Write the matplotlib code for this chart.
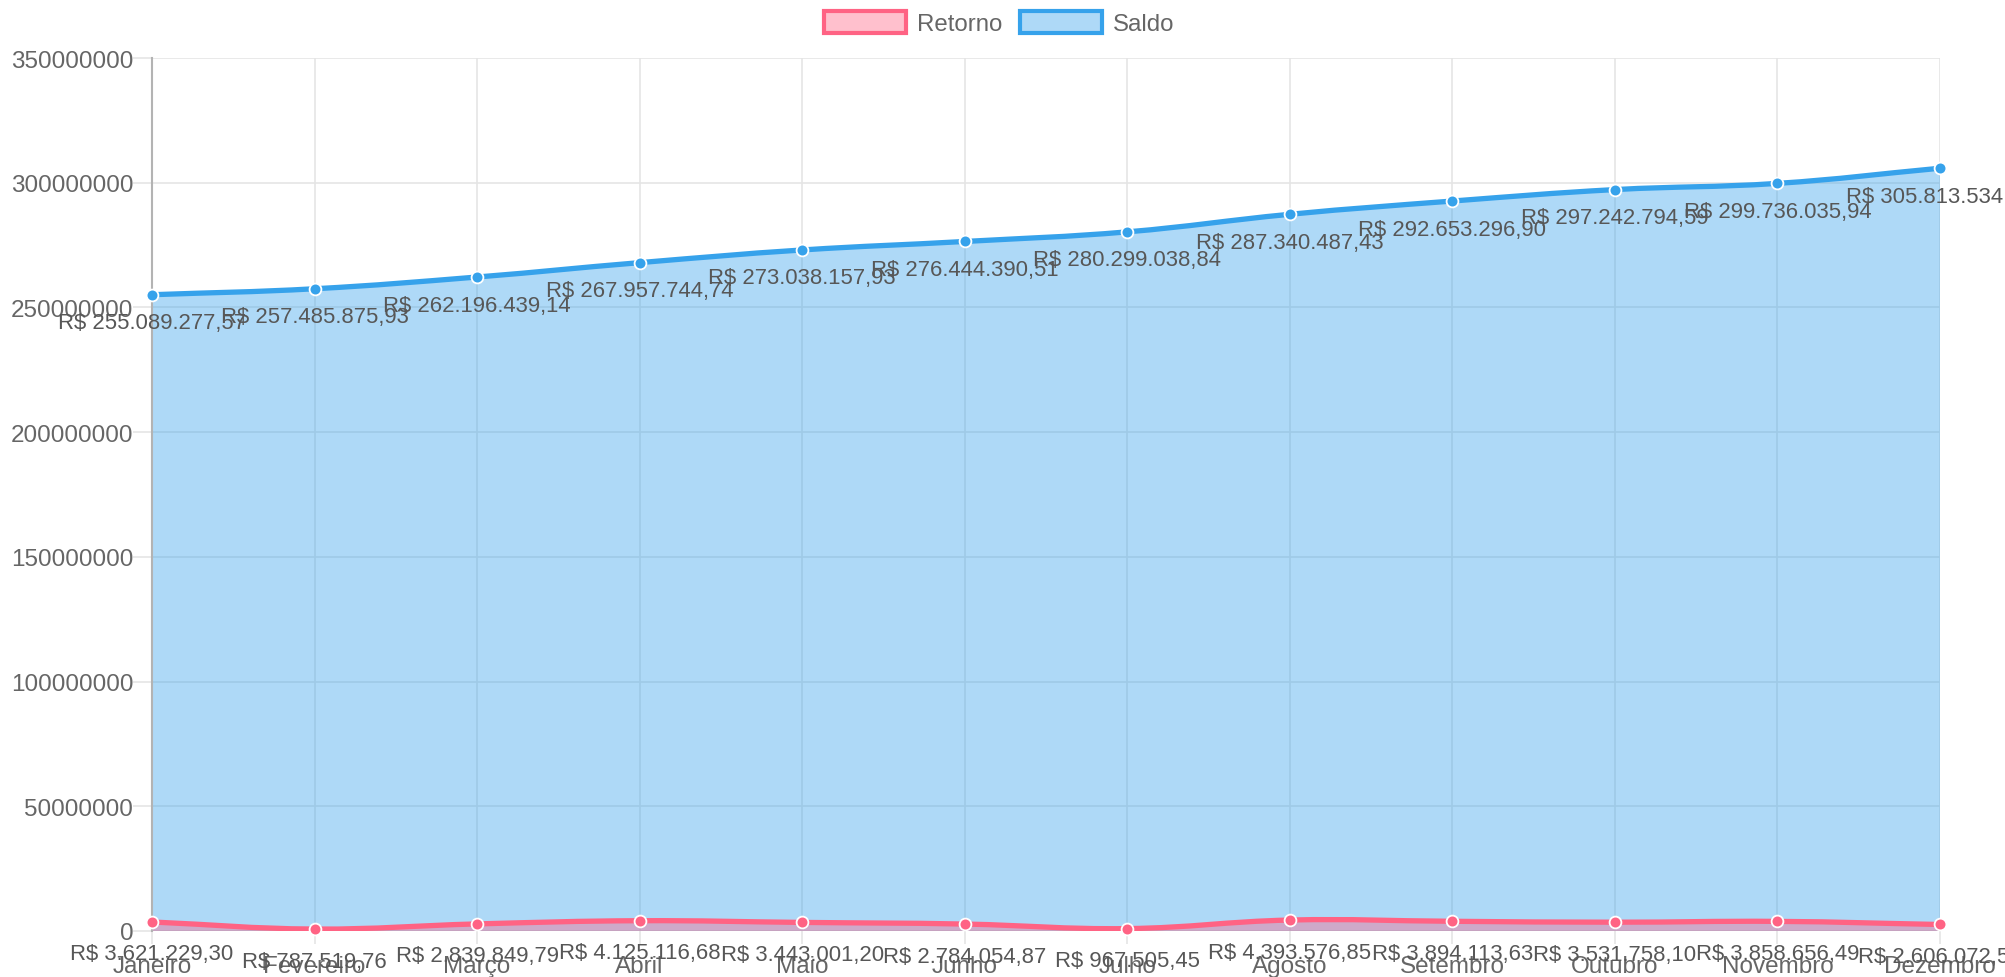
import numpy as np
import matplotlib
matplotlib.use('Agg')
import matplotlib.pyplot as plt
from matplotlib.path import Path
from matplotlib.patches import PathPatch, Patch
from matplotlib.ticker import FuncFormatter

months = ['Janeiro', 'Fevereiro', 'Março', 'Abril', 'Maio', 'Junho', 'Julho',
          'Agosto', 'Setembro', 'Outubro', 'Novembro', 'Dezembro']
retorno = [3621229.30, 787519.76, 2839849.79, 4125116.68, 3443001.20, 2784054.87,
           967505.45, 4393576.85, 3894113.63, 3531758.10, 3858656.49, 2606072.55]
saldo = [255089277.57, 257485875.93, 262196439.14, 267957744.74, 273038157.93,
         276444390.51, 280299038.84, 287340487.43, 292653296.90, 297242794.59,
         299736035.94, 305813534.27]

plt.rcParams['font.family'] = ['Liberation Sans', 'DejaVu Sans']

W, H = 2006, 978
L, R, T, B = 152, 1940, 59, 932
YMAX = 350000000


def brl(v):
  s = f"{v:,.2f}".replace(',', '#').replace('.', ',').replace('#', '.')
  return 'R$ ' + s


def spline_path(xs, ys, tension=0.4):
  """
  Chart.js style bezier through the points, closed down to zero
  (control points computed in pixel space)
  """
  sx = (R - L) / (len(xs) - 1)
  sy = (B - T) / YMAX
  px = np.asarray(xs, float) * sx
  py = np.asarray(ys, float) * sy
  n = len(px)
  cp_prev, cp_next = [], []
  for i in range(n):
    a = max(i - 1, 0); c = min(i + 1, n - 1)
    d01 = np.hypot(px[i] - px[a], py[i] - py[a])
    d12 = np.hypot(px[c] - px[i], py[c] - py[i])
    tot = d01 + d12
    s01 = d01 / tot if tot else 0
    s12 = d12 / tot if tot else 0
    fa, fb = tension * s01, tension * s12
    dx, dy = px[c] - px[a], py[c] - py[a]
    cp_prev.append((px[i] - fa * dx, py[i] - fa * dy))
    cp_next.append((px[i] + fb * dx, py[i] + fb * dy))
  verts = [(px[0], py[0])]
  codes = [Path.MOVETO]
  for i in range(n - 1):
    verts += [cp_next[i], cp_prev[i + 1], (px[i + 1], py[i + 1])]
    codes += [Path.CURVE4] * 3
  verts = [(x / sx, y / sy) for x, y in verts]
  line = Path(verts, codes)
  fill = Path([(xs[0], 0)] + verts + [(xs[-1], 0), (xs[0], 0)],
              [Path.MOVETO, Path.LINETO] + codes[1:] + [Path.LINETO, Path.CLOSEPOLY])
  return line, fill


fig = plt.figure(figsize=(W / 100, H / 100), dpi=100)
ax = fig.add_axes([L / W, 1 - B / H, (R - L) / W, (B - T) / H])
x = np.arange(len(months))

series = [(saldo, '#36a2eb', -28), (retorno, '#ff6384', -32)]
for vals, col, off in series:
  line, fill = spline_path(x, vals)
  ax.add_patch(PathPatch(fill, facecolor=col, alpha=0.4, edgecolor='none', zorder=2))
  ax.add_patch(PathPatch(line, facecolor='none', edgecolor=col, lw=3.8, zorder=3,
                         capstyle='round', joinstyle='round'))
for vals, col, off in series:
  ax.plot(x, vals, 'o', ms=8.5, mfc=col, mec='white', mew=1.3, zorder=4, clip_on=False)
  for xi, v in zip(x, vals):
    ax.annotate(brl(v), (xi, v), xytext=(0, off), textcoords='offset pixels',
                ha='center', va='center', fontsize=15.9, color='#575757',
                annotation_clip=False, zorder=6)

ax.set_xlim(0, len(months) - 1)
ax.set_ylim(0, YMAX)
ax.set_xticks(x)
ax.set_xticklabels(months)
ax.set_yticks(np.arange(0, YMAX + 1, 50000000))
ax.yaxis.set_major_formatter(FuncFormatter(lambda v, p: f"{int(v)}"))
ax.grid(True, color='#e5e5e5', lw=1.2, zorder=0)
ax.set_axisbelow(True)
for s in ['top', 'right', 'bottom']:
  ax.spines[s].set_visible(False)
ax.spines['left'].set_color('#b3b3b3')
ax.spines['left'].set_linewidth(1.5)
ax.tick_params(axis='y', length=13.5, width=1.2, color='#e5e5e5', pad=0,
               labelsize=17.5, labelcolor='#666666')
ax.tick_params(axis='x', length=9, width=1.2, color='#e5e5e5', pad=8,
               labelsize=17.5, labelcolor='#666666')

handles = [Patch(facecolor=(1, 0.388, 0.518, 0.4), edgecolor='#ff6384', lw=3, label='Retorno'),
           Patch(facecolor=(0.212, 0.635, 0.922, 0.4), edgecolor='#36a2eb', lw=3, label='Saldo')]
fig.legend(handles=handles, loc='center', bbox_to_anchor=(0.498, 0.975), ncol=2,
           frameon=False, fontsize=17.3, labelcolor='#666666', handlelength=3.4,
           handleheight=1.0, handletextpad=0.45, columnspacing=0.75)

fig.savefig('out.png', dpi=100)
